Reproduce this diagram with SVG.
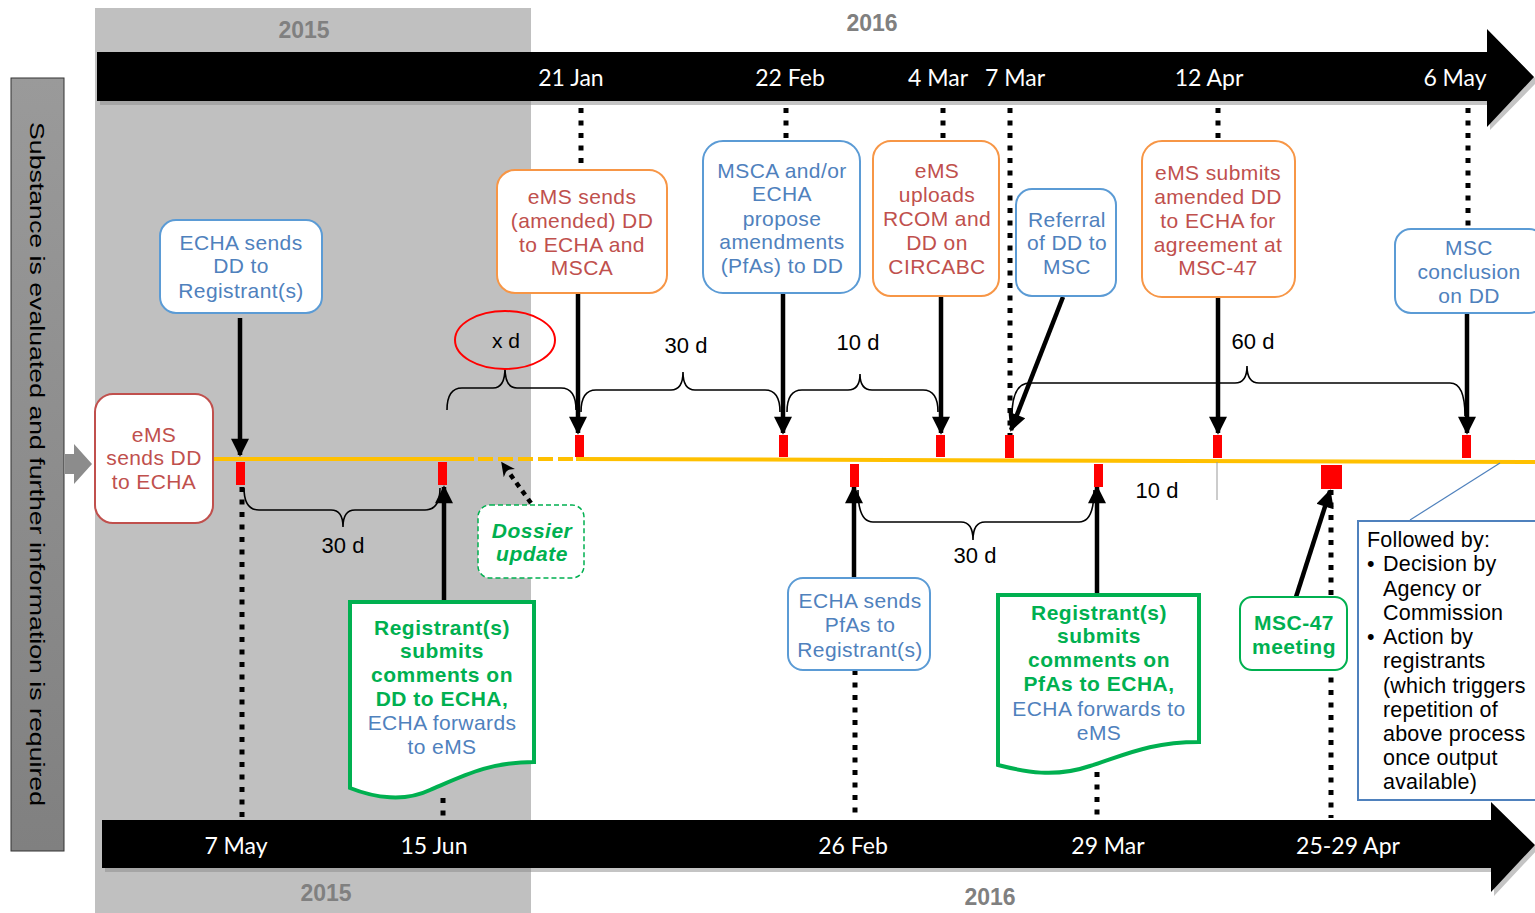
<svg xmlns="http://www.w3.org/2000/svg" width="1535" height="913" viewBox="0 0 1535 913">
<defs>
<marker id="ah" viewBox="0 0 10 10" refX="9" refY="5" markerWidth="20" markerHeight="18" markerUnits="userSpaceOnUse" orient="auto"><path d="M0,0 L10,5 L0,10 z" fill="#000"/></marker>
<marker id="ahs" viewBox="0 0 10 10" refX="9" refY="5" markerWidth="16" markerHeight="14" markerUnits="userSpaceOnUse" orient="auto"><path d="M0,0 L10,5 L0,10 L3,5 z" fill="#000"/></marker>
<linearGradient id="pg" x1="0" y1="0" x2="0" y2="1"><stop offset="0" stop-color="#9a9a9a"/><stop offset="1" stop-color="#808080"/></linearGradient>
</defs>
<style>
.bx{fill:#fff;stroke-width:2}
.org{stroke:#f79646}.blu{stroke:#5b9bd5}.rd{stroke:#c0504d}.grn{stroke:#00b050}
text{font-family:"Liberation Sans",Arial,sans-serif;font-size:21px;text-anchor:middle;dominant-baseline:central}
.tr{fill:#c0504d;letter-spacing:0.4px}.tb{fill:#4f81bd;letter-spacing:0.4px}.tg{fill:#00b050;font-weight:bold;letter-spacing:0.5px}.tk{fill:#000}
.date{fill:#fff;font-family:Lato,"Liberation Sans",sans-serif;font-size:23px}
.yr{fill:#808080;font-weight:bold;font-size:23px}
.dl{fill:#000;font-size:22px}
.fb{fill:#000;font-size:21.5px;text-anchor:start;letter-spacing:0.2px}
.dot{stroke:#000;stroke-width:5;stroke-dasharray:5 7.5;fill:none}
.arr{stroke:#000;stroke-width:4.5;fill:none;marker-end:url(#ah)}
.brace{fill:none;stroke:#000;stroke-width:1.6}
.mk{fill:#ff0000}
</style>
<!-- background -->
<rect x="95" y="8" width="436" height="905" fill="#c0c0c0"/>
<text class="yr" x="304" y="30">2015</text>
<text class="yr" x="872" y="23">2016</text>
<text class="yr" x="326" y="893">2015</text>
<text class="yr" x="990" y="897">2016</text>
<!-- top timeline -->
<g id="top-axis">
<path d="M100,56 H1490 V33 L1538,81 L1490,130 V105 H100 Z" fill="#8a8a8a" opacity="0.5"/>
<path d="M97,52 H1487 V29 L1534,77 L1487,127 V101 H97 Z" fill="#000"/>
<text class="date" x="571" y="77">21 Jan</text>
<text class="date" x="790" y="77">22 Feb</text>
<text class="date" x="938" y="77">4 Mar</text>
<text class="date" x="1015" y="77">7 Mar</text>
<text class="date" x="1209" y="77">12 Apr</text>
<text class="date" x="1455" y="77">6 May</text>
</g>
<!-- bottom timeline -->
<g id="bottom-axis">
<path d="M105,824 H1494 V806 L1538,849 L1494,896 V872 H105 Z" fill="#8a8a8a" opacity="0.5"/>
<path d="M102,820 H1491 V802 L1535,845 L1491,892 V868 H102 Z" fill="#000"/>
<text class="date" x="236" y="845">7 May</text>
<text class="date" x="434" y="845">15 Jun</text>
<text class="date" x="853" y="845">26 Feb</text>
<text class="date" x="1108" y="845">29 Mar</text>
<text class="date" x="1348" y="845">25-29 Apr</text>
</g>
<!-- left panel -->
<g id="side-panel">
<rect x="11" y="78" width="53" height="773" fill="url(#pg)" stroke="#333" stroke-width="1"/>
<text class="tk" transform="translate(37,464) rotate(90)" font-size="25" textLength="684" lengthAdjust="spacingAndGlyphs">Substance is evaluated and further information is required</text>
<path d="M65,454 H74 V444 L92,464 L74,484 V474 H65 Z" fill="#8c8c8c"/>
</g>
<!-- connectors -->
<g id="connectors">
<line x1="213" y1="459" x2="474" y2="459" stroke="#ffc000" stroke-width="4"/>
<line x1="478" y1="459" x2="574" y2="459" stroke="#ffc000" stroke-width="4" stroke-dasharray="15 5"/>
<line x1="576" y1="459" x2="1535" y2="462" stroke="#ffc000" stroke-width="4"/>
<line class="dot" x1="581" y1="108" x2="581" y2="170"/>
<line class="dot" x1="786" y1="108" x2="786" y2="141"/>
<line class="dot" x1="943" y1="108" x2="943" y2="141"/>
<line class="dot" x1="1010" y1="108" x2="1010" y2="440"/>
<line class="dot" x1="1218" y1="108" x2="1218" y2="141"/>
<line class="dot" x1="1468" y1="108" x2="1468" y2="229"/>
<line class="dot" x1="242" y1="487" x2="242" y2="818"/>
<line class="dot" x1="443" y1="798" x2="443" y2="818"/>
<line class="dot" x1="855" y1="670" x2="855" y2="818"/>
<line class="dot" x1="1097" y1="772" x2="1097" y2="818"/>
<line class="dot" x1="1331" y1="490" x2="1331" y2="818"/>
<line class="arr" x1="240" y1="318" x2="240" y2="455"/>
<line class="arr" x1="578" y1="293" x2="578" y2="433"/>
<line class="arr" x1="783" y1="293" x2="783" y2="433"/>
<line class="arr" x1="941" y1="296" x2="941" y2="433"/>
<line class="arr" x1="1063" y1="297" x2="1011" y2="430"/>
<line class="arr" x1="1218" y1="297" x2="1218" y2="433"/>
<line class="arr" x1="1467" y1="313" x2="1467" y2="433"/>
<line class="arr" x1="444" y1="602" x2="444" y2="487"/>
<line class="arr" x1="854" y1="578" x2="854" y2="487"/>
<line class="arr" x1="1097" y1="595" x2="1097" y2="487"/>
<line class="arr" x1="1296" y1="597" x2="1330" y2="491"/>
<line x1="531" y1="503" x2="502" y2="463" stroke="#000" stroke-width="4.5" stroke-dasharray="5 5" marker-end="url(#ahs)"/>
<path class="brace" d="M447,410 Q447,388 462,388 H493 Q505,388 505,368 Q505,388 517,388 H561 Q576,388 576,410"/>
<path class="brace" d="M581,412 Q581,390 596,390 H671 Q683,390 683,372 Q683,390 695,390 H765 Q780,390 780,412"/>
<path class="brace" d="M787,412 Q787,390 802,390 H848 Q860,390 860,374 Q860,390 872,390 H923 Q938,390 938,412"/>
<path class="brace" d="M1012,416 Q1012,383 1030,383 H1235 Q1247,383 1247,366 Q1247,383 1259,383 H1450 Q1465,383 1465,416"/>
<path class="brace" d="M244,488 Q244,510 259,510 H331 Q343,510 343,527 Q343,510 355,510 H425 Q440,510 440,488"/>
<path class="brace" d="M858,490 Q858,522 873,522 H961 Q973,522 973,540 Q973,522 985,522 H1079 Q1094,522 1094,490"/>
<line x1="1217" y1="462" x2="1217" y2="500" stroke="#999" stroke-width="1"/>
<line x1="1410" y1="520" x2="1500" y2="463" stroke="#4f81bd" stroke-width="1.2"/>
<rect class="mk" x="236" y="462" width="9" height="23"/>
<rect class="mk" x="438" y="462" width="9" height="23"/>
<rect class="mk" x="575" y="435" width="9" height="22"/>
<rect class="mk" x="779" y="435" width="9" height="22"/>
<rect class="mk" x="936" y="435" width="9" height="22"/>
<rect class="mk" x="1005" y="435" width="9" height="23"/>
<rect class="mk" x="1213" y="435" width="9" height="23"/>
<rect class="mk" x="1462" y="435" width="9" height="23"/>
<rect class="mk" x="850" y="464" width="9" height="23"/>
<rect class="mk" x="1094" y="464" width="9" height="23"/>
<rect class="mk" x="1321" y="465" width="21" height="24"/>
</g>
<text class="dl" x="343" y="545">30 d</text>
<text class="dl" x="686" y="345">30 d</text>
<text class="dl" x="858" y="342">10 d</text>
<text class="dl" x="1253" y="341">60 d</text>
<text class="dl" x="975" y="555">30 d</text>
<text class="dl" x="1157" y="490">10 d</text>
<!-- nodes -->
<g id="n-ems-sends-dd">
<rect class="bx rd" x="95" y="394" width="118" height="129" rx="18"/>
<text class="tr" x="154" y="434">eMS</text>
<text class="tr" x="154" y="457">sends DD</text>
<text class="tr" x="154" y="481">to ECHA</text>
</g>
<g id="n-echa-sends-dd">
<rect class="bx blu" x="160" y="220" width="162" height="93" rx="16"/>
<text class="tb" x="241" y="242">ECHA sends</text>
<text class="tb" x="241" y="265">DD to</text>
<text class="tb" x="241" y="290">Registrant(s)</text>
</g>
<g id="n-xd">
<ellipse cx="505" cy="340" rx="50" ry="29" fill="none" stroke="#ff0000" stroke-width="2"/>
<text class="tk" x="506" y="340" font-size="22">x d</text>
</g>
<g id="n-ems-amended">
<rect class="bx org" x="497" y="170" width="170" height="123" rx="18"/>
<text class="tr" x="582" y="196">eMS sends</text>
<text class="tr" x="582" y="220">(amended) DD</text>
<text class="tr" x="582" y="244">to ECHA and</text>
<text class="tr" x="582" y="267">MSCA</text>
</g>
<g id="n-msca-propose">
<rect class="bx blu" x="703" y="141" width="157" height="152" rx="20"/>
<text class="tb" x="782" y="170">MSCA and/or</text>
<text class="tb" x="782" y="193">ECHA</text>
<text class="tb" x="782" y="218">propose</text>
<text class="tb" x="782" y="241">amendments</text>
<text class="tb" x="782" y="265">(PfAs) to DD</text>
</g>
<g id="n-ems-uploads">
<rect class="bx org" x="873" y="141" width="126" height="155" rx="18"/>
<text class="tr" x="937" y="170">eMS</text>
<text class="tr" x="937" y="194">uploads</text>
<text class="tr" x="937" y="218">RCOM and</text>
<text class="tr" x="937" y="242">DD on</text>
<text class="tr" x="937" y="266">CIRCABC</text>
</g>
<g id="n-referral">
<rect class="bx blu" x="1016" y="189" width="100" height="107" rx="16"/>
<text class="tb" x="1067" y="219">Referral</text>
<text class="tb" x="1067" y="242">of DD to</text>
<text class="tb" x="1067" y="266">MSC</text>
</g>
<g id="n-ems-submits">
<rect class="bx org" x="1142" y="141" width="153" height="156" rx="20"/>
<text class="tr" x="1218" y="172">eMS submits</text>
<text class="tr" x="1218" y="196">amended DD</text>
<text class="tr" x="1218" y="220">to ECHA for</text>
<text class="tr" x="1218" y="244">agreement at</text>
<text class="tr" x="1218" y="267">MSC-47</text>
</g>
<g id="n-msc-conclusion">
<rect class="bx blu" x="1395" y="229" width="150" height="84" rx="16"/>
<text class="tb" x="1469" y="247">MSC</text>
<text class="tb" x="1469" y="271">conclusion</text>
<text class="tb" x="1469" y="295">on DD</text>
</g>
<g id="n-dossier-update">
<rect x="478" y="505" width="106" height="73" rx="12" fill="#fff" stroke="#00b050" stroke-width="1.5" stroke-dasharray="5 3"/>
<text class="tg" x="532" y="530" font-style="italic">Dossier</text>
<text class="tg" x="532" y="553" font-style="italic">update</text>
</g>
<g id="n-registrant-dd">
<path d="M350,602 H534 V762 C490,762 465,775 430,790 C405,802 375,798 350,788 Z" fill="#fff" stroke="#00b050" stroke-width="4"/>
<text class="tg" x="442" y="627">Registrant(s)</text>
<text class="tg" x="442" y="650">submits</text>
<text class="tg" x="442" y="674">comments on</text>
<text class="tg" x="442" y="698">DD to ECHA,</text>
<text class="tb" x="442" y="722">ECHA forwards</text>
<text class="tb" x="442" y="746">to eMS</text>
</g>
<g id="n-echa-sends-pfas">
<rect class="bx blu" x="788" y="578" width="142" height="92" rx="15"/>
<text class="tb" x="860" y="600">ECHA sends</text>
<text class="tb" x="860" y="624">PfAs to</text>
<text class="tb" x="860" y="649">Registrant(s)</text>
</g>
<g id="n-registrant-pfas">
<path d="M998,595 H1199 V742 C1150,742 1125,755 1090,766 C1055,778 1025,772 998,765 Z" fill="#fff" stroke="#00b050" stroke-width="4"/>
<text class="tg" x="1099" y="612">Registrant(s)</text>
<text class="tg" x="1099" y="635">submits</text>
<text class="tg" x="1099" y="659">comments on</text>
<text class="tg" x="1099" y="683">PfAs to ECHA,</text>
<text class="tb" x="1099" y="708">ECHA forwards to</text>
<text class="tb" x="1099" y="732">eMS</text>
</g>
<g id="n-msc47">
<rect class="bx grn" x="1240" y="597" width="107" height="73" rx="12"/>
<text class="tg" x="1294" y="622">MSC-47</text>
<text class="tg" x="1294" y="646">meeting</text>
</g>
<g id="n-followed">
<rect x="1358" y="521" width="190" height="279" fill="#fff" stroke="#4f81bd" stroke-width="2"/>
<text class="fb" x="1367" y="540">Followed by:</text>
<text class="fb" x="1367" y="564">•</text>
<text class="fb" x="1383" y="564">Decision by</text>
<text class="fb" x="1383" y="589">Agency or</text>
<text class="fb" x="1383" y="613">Commission</text>
<text class="fb" x="1367" y="637">•</text>
<text class="fb" x="1383" y="637">Action by</text>
<text class="fb" x="1383" y="661">registrants</text>
<text class="fb" x="1383" y="686">(which triggers</text>
<text class="fb" x="1383" y="710">repetition of</text>
<text class="fb" x="1383" y="734">above process</text>
<text class="fb" x="1383" y="758">once output</text>
<text class="fb" x="1383" y="782">available)</text>
</g>
</svg>
